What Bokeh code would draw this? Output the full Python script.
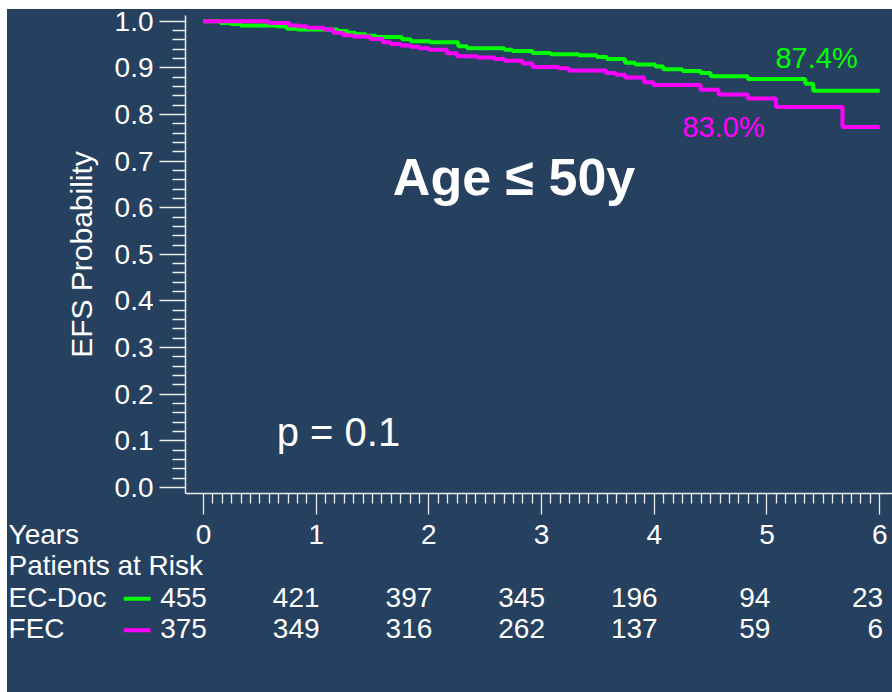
from bokeh.plotting import figure
from bokeh.layouts import column
from bokeh.models import (FixedTicker, NumeralTickFormatter, Label,
                          Range1d, CustomJSTickFormatter)
from bokeh.core.properties import value
from bokeh.embed import file_html
from bokeh.resources import INLINE

BG = "#26405F"
FONT = "Liberation Sans"
GREEN = "#00FF00"
MAGENTA = "#FF00FF"
AXIS = "#ECECEC"

# ---------------- data ----------------
years = [0, 1, 2, 3, 4, 5, 6]
y_ticks = [0.0, 0.1, 0.2, 0.3, 0.4, 0.5, 0.6, 0.7, 0.8, 0.9, 1.0]
followup_end = 6.0

ecdoc_times = [0.15, 0.24, 0.33, 0.65, 0.74, 0.83, 1.19, 1.28, 1.35, 1.44, 1.53,
               1.76, 1.84, 2.01, 2.26, 2.34, 2.67, 2.74, 2.92, 3.08, 3.33, 3.49,
               3.58, 3.74, 3.83, 4.01, 4.08, 4.25, 4.41, 4.50, 4.83, 5.34, 5.41]
ecdoc_surv = [0.996, 0.994, 0.991, 0.989, 0.984, 0.982, 0.979, 0.975, 0.972, 0.969,
              0.966, 0.961, 0.957, 0.955, 0.946, 0.942, 0.939, 0.936, 0.932, 0.929,
              0.927, 0.923, 0.919, 0.911, 0.907, 0.903, 0.897, 0.893, 0.889, 0.882,
              0.876, 0.866, 0.851]

fec_times = [0.58, 0.76, 0.84, 0.92, 1.07, 1.15, 1.24, 1.33, 1.48, 1.59, 1.66, 1.75,
             1.84, 1.91, 2.00, 2.16, 2.25, 2.43, 2.58, 2.67, 2.83, 2.92, 3.15, 3.24,
             3.57, 3.66, 3.74, 3.91, 3.99, 4.41, 4.57, 4.83, 5.08, 5.67]
fec_surv = [0.996, 0.991, 0.989, 0.986, 0.982, 0.975, 0.970, 0.967, 0.962, 0.955,
            0.951, 0.948, 0.945, 0.942, 0.939, 0.931, 0.925, 0.922, 0.919, 0.915,
            0.909, 0.902, 0.899, 0.894, 0.889, 0.885, 0.879, 0.869, 0.863, 0.853,
            0.843, 0.834, 0.816, 0.773]

ecdoc_risk = [455, 421, 397, 345, 196, 94, 23]
fec_risk = [375, 349, 316, 262, 137, 59, 6]

series_names = ["EC-Doc", "FEC"]
series_colors = [GREEN, MAGENTA]
rate_labels = ["87.4%", "83.0%"]
table_titles = ["Years", "Patients at Risk"]

# minor ticks: months on x, 0.02 on y
x_minor = [m / 12 for m in range(1, 12 * years[-1]) if m % 12]
y_minor = [k / 50 for k in range(1, 50) if k % 5]


def km(times, surv):
    xs = [0.0] + list(times) + [followup_end]
    ys = [1.0] + list(surv) + [surv[-1]]
    return xs, ys


# ---------------- main KM figure ----------------
p = figure(width=885, height=510,
           x_range=Range1d(-0.1597, 6.1136), y_range=Range1d(-0.0129, 1.0122),
           output_backend="svg", toolbar_location=None,
           min_border_left=178, min_border_right=0, min_border_top=6,
           min_border_bottom=26, frame_align=False,
           background_fill_color=BG, border_fill_color=BG,
           outline_line_color=None)
p.xgrid.visible = False
p.ygrid.visible = False

p.xaxis.ticker = FixedTicker(ticks=years, minor_ticks=x_minor)
p.yaxis.ticker = FixedTicker(ticks=y_ticks, minor_ticks=y_minor)
p.yaxis.formatter = NumeralTickFormatter(format="0.0")
p.xaxis.formatter = CustomJSTickFormatter(code="return ''")

for ax in (p.xaxis[0], p.yaxis[0]):
    ax.axis_line_color = AXIS
    ax.axis_line_width = 1.5
    ax.major_tick_line_color = AXIS
    ax.minor_tick_line_color = AXIS
    ax.major_tick_line_width = 1.3
    ax.minor_tick_line_width = 1.3
    ax.major_tick_in = 0
    ax.minor_tick_in = 0
    ax.major_label_text_color = "white"
    ax.major_label_text_font = FONT

p.yaxis.major_label_text_font_size = "28px"
p.yaxis.major_tick_out = 26
p.yaxis.minor_tick_out = 13
p.yaxis.major_label_standoff = 6
p.yaxis.axis_label = "EFS Probability"
p.yaxis.axis_label_text_font = FONT
p.yaxis.axis_label_text_font_size = "30px"
p.yaxis.axis_label_text_font_style = "normal"
p.yaxis.axis_label_text_color = "white"
p.yaxis.axis_label_standoff = 14

p.xaxis.major_tick_out = 21
p.xaxis.minor_tick_out = 10
p.xaxis.major_label_standoff = 0
p.xaxis.major_label_text_font_size = "0px"

gx, gy = km(ecdoc_times, ecdoc_surv)
fx, fy = km(fec_times, fec_surv)
p.step(gx, gy, mode="after", line_color=GREEN, line_width=4)
p.step(fx, fy, mode="after", line_color=MAGENTA, line_width=4)


def lab(fig, text, x, y, size, color="white", bold=False):
    fig.add_layout(Label(x=x, y=y, text=text, text_font=FONT,
                         text_font_size=size, text_color=color,
                         text_align="left", text_baseline="middle",
                         text_font_style="bold" if bold else "normal"))


lab(p, "Age \u2264 50y", 1.680, 0.665, "52px", bold=True)
lab(p, "p = 0.1", 0.650, 0.119, "40px")
lab(p, rate_labels[0], 5.075, 0.920, "29px", color=GREEN)
lab(p, rate_labels[1], 4.250, 0.773, "29px", color=MAGENTA)

# ---------------- risk table (rows: 0 years, 1 title, 2 EC-Doc, 3 FEC) -------
# x range continues the main figure's scale out to the left page edge
t = figure(width=885, height=173,
           x_range=Range1d(-1.7391, 6.1136), y_range=Range1d(5.032, -0.470),
           output_backend="svg", toolbar_location=None,
           x_axis_type=None, y_axis_type=None,
           min_border_left=0, min_border_right=0, min_border_top=0,
           min_border_bottom=0, frame_align=False,
           background_fill_color=BG, border_fill_color=BG,
           outline_line_color=None)

txt = dict(text_font=value(FONT), text_font_size=value("28px"),
           text_color="white", text_baseline="middle")

# year labels under the ticks
t.text(x=years, y=[0] * len(years), text=[str(v) for v in years],
       text_align="center", **txt)

# left column texts
left_x = -1.73
t.text(x=[left_x] * 4, y=[0, 1, 2, 3],
       text=table_titles + series_names, text_align="left", **txt)

# numbers at risk, right-aligned just past each tick
for row, risk in zip([2, 3], [ecdoc_risk, fec_risk]):
    t.text(x=[yr + 0.03 for yr in years], y=[row] * len(years),
           text=[str(v) for v in risk], text_align="right", **txt)

# legend line samples
for row, col in zip([2, 3], series_colors):
    t.segment(x0=[-0.707], y0=[row + 0.05], x1=[-0.470], y1=[row + 0.05],
              line_color=col, line_width=4)

layout = column(p, t, spacing=0, margin=(9, 0, 0, 7),
                styles={"background-color": BG})
open("out.html", "w").write(file_html(layout, INLINE))
